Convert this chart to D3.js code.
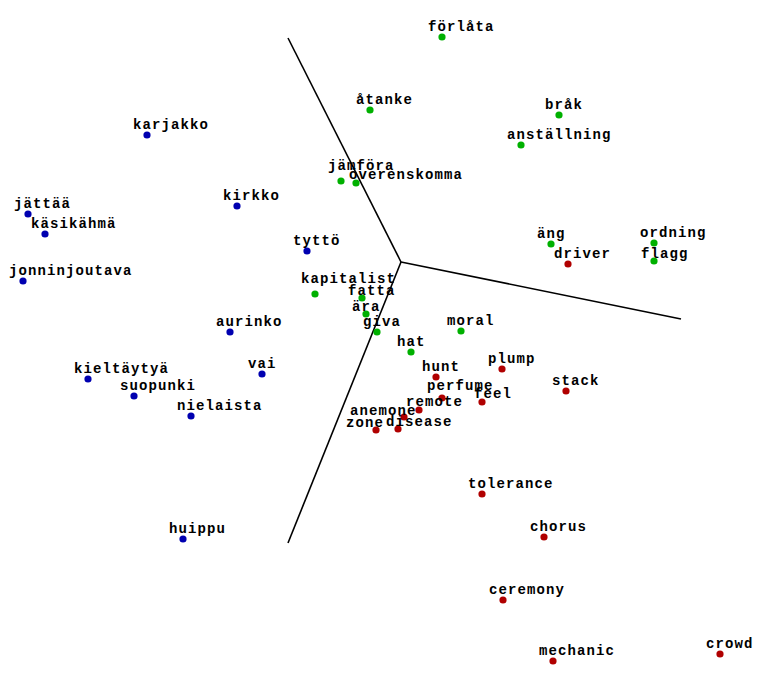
<!DOCTYPE html>
<html>
<head>
<meta charset="utf-8">
<script src="https://cdn.jsdelivr.net/npm/d3@7"></script>
<style>
  html, body { margin: 0; padding: 0; background: #fff; }
  svg { display: block; }
  text { font-family: "Liberation Mono", "DejaVu Sans Mono", monospace; font-weight: bold; font-size: 14px; letter-spacing: 1.1px; fill: #000; }
</style>
</head>
<body>
<svg id="chart" width="765" height="688"></svg>
<script>
// Word projections (centred coordinates, y up)
const finnishWords = ["karjakko","jättää","käsikähmä","jonninjoutava","kirkko","tyttö","aurinko","vai","kieltäytyä","suopunki","nielaista","huippu"];
const finnishX = [-254,-373,-356,-378,-164,-94,-171,-139,-313,-267,-210,-218];
const finnishY = [127,48,28,-19,56,11,-70,-112,-117,-134,-154,-277];

const swedishWords = ["förlåta","åtanke","bråk","anställning","jämföra","överenskomma","äng","ordning","flagg","kapitalist","fatta","ära","giva","moral","hat"];
const swedishX = [41,-31,158,120,-60,-45,150,253,253,-86,-39,-35,-24,60,10];
const swedishY = [225,152,147,117,81,79,18,19,1,-32,-36,-52,-70,-69,-90];

const englishWords = ["driver","plump","hunt","perfume","feel","stack","remote","anemone","zone","disease","tolerance","chorus","ceremony","mechanic","crowd"];
const englishX = [167,101,35,41,81,165,18,3,-25,-3,81,143,102,152,319];
const englishY = [-2,-107,-115,-136,-140,-129,-148,-155,-168,-167,-232,-275,-338,-399,-392];

// Region boundary rays from the origin
const rayEndX = [-113, 280, -113];
const rayEndY = [224, -57, -281];

// label nudges for crowded labels [dx, dy]
const labelNudge = {
  "kapitalist": [-14, -11], "fatta": [-14, -3], "ära": [-14, -3],
  "jämföra": [-13, -11], "överenskomma": [-7, -4], "flagg": [-13, -3],
  "anemone": [-54, -2], "zone": [-30, -3], "disease": [-12, -3],
  "remote": [-13, -4], "feel": [-8, -4], "perfume": [-15, -8]
};

const groups = [
  {words: finnishWords, xs: finnishX, ys: finnishY, color: "#0000b0"},
  {words: swedishWords, xs: swedishX, ys: swedishY, color: "#00b000"},
  {words: englishWords, xs: englishX, ys: englishY, color: "#b00000"}
];

const svg = d3.select("#chart");
const x = d3.scaleLinear().domain([-401, 364]).range([0, 765]);
const y = d3.scaleLinear().domain([262, -426]).range([0, 688]);

const line = d3.line().x(d => x(d[0])).y(d => y(d[1]));
rayEndX.forEach((ex, i) => {
  svg.append("path")
    .attr("d", line([[0, 0], [ex, rayEndY[i]]]))
    .attr("fill", "none")
    .attr("stroke", "#000")
    .attr("stroke-width", 1.6);
});

groups.forEach(g => {
  const data = g.words.map((w, i) => ({w, x: g.xs[i], y: g.ys[i]}));
  svg.append("g").selectAll("circle").data(data).join("circle")
    .attr("cx", d => x(d.x)).attr("cy", d => y(d.y))
    .attr("r", 3.6).attr("fill", g.color);
  svg.append("g").selectAll("text").data(data).join("text")
    .attr("x", d => x(d.x) + (labelNudge[d.w] ? labelNudge[d.w][0] : -14))
    .attr("y", d => y(d.y) + (labelNudge[d.w] ? labelNudge[d.w][1] : -6))
    .text(d => d.w);
});
</script>
</body>
</html>
